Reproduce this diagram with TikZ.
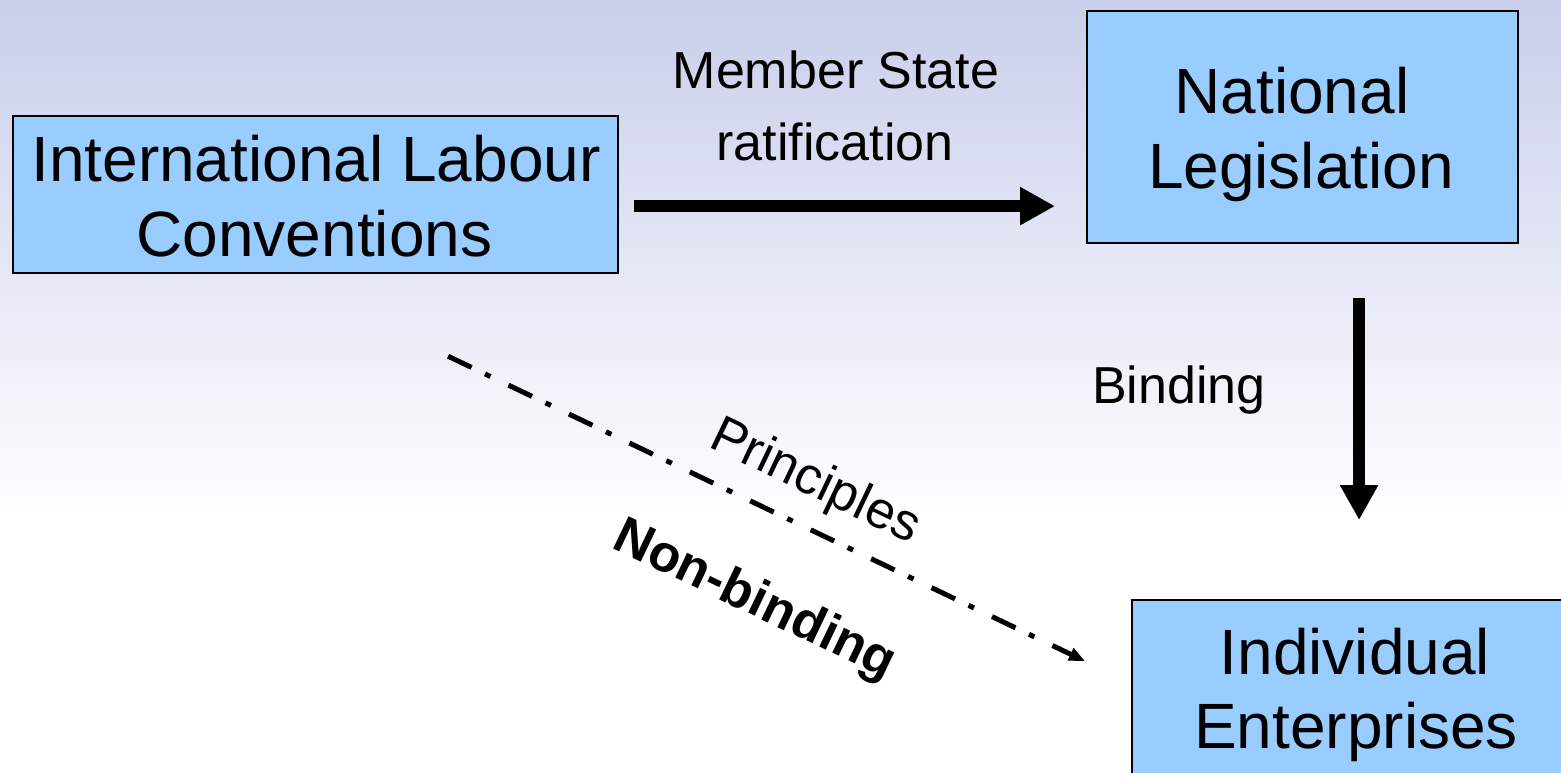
\documentclass[tikz,border=0pt]{standalone}
\usepackage{fontspec}
\setmainfont{Liberation Sans}
\usetikzlibrary{arrows.meta,calc}
\definecolor{boxblue}{RGB}{153,204,255}
\definecolor{bgtop}{RGB}{201,206,234}
\begin{document}
\begin{tikzpicture}[x=1pt,y=-1pt,
  box/.style={draw=black,line width=2.2pt,fill=boxblue,inner sep=0pt,anchor=north west},
  big/.style={font=\fontsize{64}{75}\selectfont,anchor=base,inner sep=0pt},
  lab/.style={font=\fontsize{52}{60}\selectfont,anchor=base,inner sep=0pt},
  rot/.style={font=\fontsize{52}{60}\selectfont,rotate=-25.55,inner sep=0pt},
  bigarrow/.style={line width=12pt,-{Triangle[length=35pt,width=36pt]}},
  ddarrow/.style={line width=5pt,dash pattern=on 26pt off 15pt on 6pt off 20pt,-{Triangle[length=16pt,width=13pt]}}]
\useasboundingbox (0,0) rectangle (1561,772);
\shade[top color=bgtop,bottom color=white] (0,0) rectangle (1561,520);
\fill[white] (0,520) rectangle (1561,772);
% boxes
\node[box,minimum width=605pt,minimum height=157pt] (ilc) at (12,115) {};
\node[box,minimum width=431pt,minimum height=232pt] (nl) at (1086,10) {};
\node[box,minimum width=450pt,minimum height=200pt] (ie) at (1131,599) {};
% box texts
\node[big] (ilc1) at (316,181) {International Labour};
\node[big] (ilc2) at (314.5,256) {Conventions};
\node[big] (nl1) at (1292,113) {National};
\node[big] (nl2) at (1301,188) {Legislation};
\node[big] (ie1) at (1355,674) {Individual};
\node[big] (ie2) at (1356,748) {Enterprises};
% labels
\node[lab] (ms1) at (836,88) {Member State};
\node[lab] (ms2) at (835,160) {ratification};
\node[lab] (bind) at (1179,403) {Binding};
\node[rot] (prin) at (815,483) {Principles};
\node[rot,font=\fontsize{52}{60}\selectfont\bfseries] (nonb) at (754,601) {Non-binding};
% connectors
\draw[bigarrow] ($(ilc.east)+(15,11.5)$) -- ($(nl.west)+(-31,79)$);
\draw[bigarrow] ($(nl.south)+(56.5,54)$) -- ($(ie.north)+(2,-79)$);
\draw[ddarrow] ($(ilc.south)+(132.5,82)$) -- ($(ie.west)+(-46,-39)$);
\end{tikzpicture}
\end{document}
